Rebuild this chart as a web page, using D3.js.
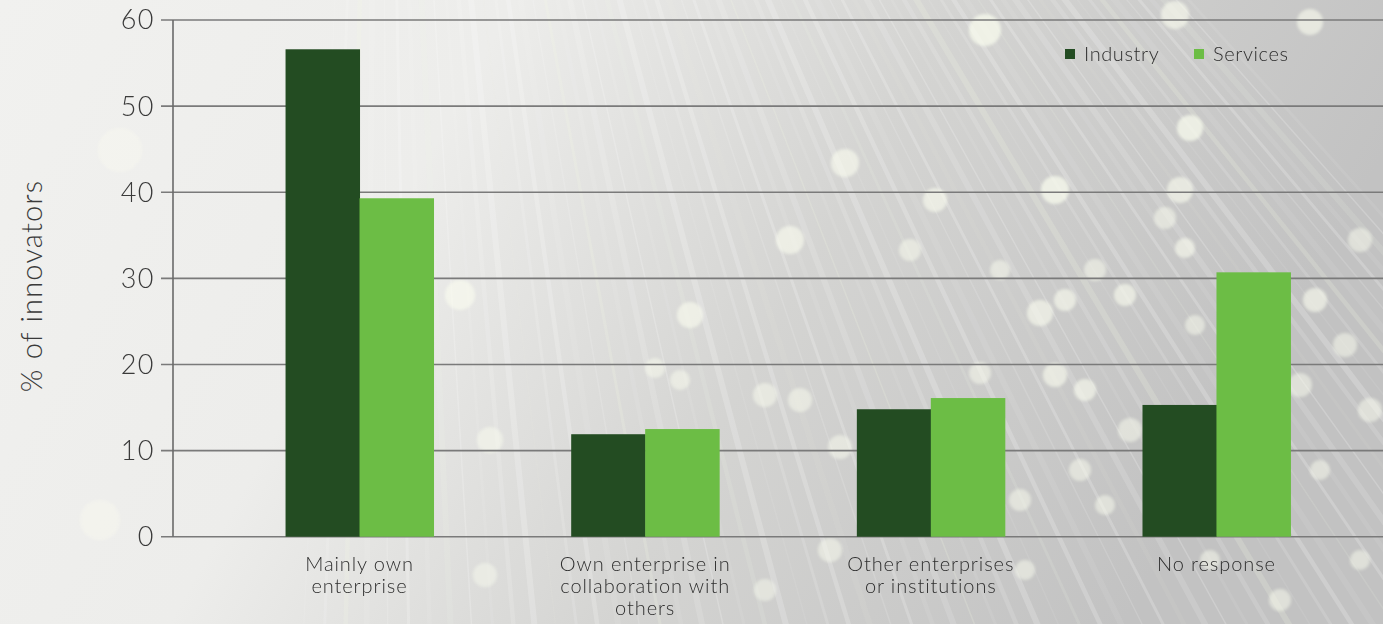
<!DOCTYPE html>
<html>
<head>
<meta charset="utf-8">
<script src="https://cdn.jsdelivr.net/npm/d3@7"></script>
<style>
  html, body { margin: 0; padding: 0; background: #e6e6e4; }
  svg { display: block; }
  text { font-family: Lato, "Open Sans", sans-serif; }
</style>
</head>
<body>
<svg id="chart" width="1383" height="624"></svg>
<script>
// Sources of innovation, share of innovators by sector
const categories = [
  ["Mainly own", "enterprise"],
  ["Own enterprise in", "collaboration with", "others"],
  ["Other enterprises", "or institutions"],
  ["No response"]
];
const seriesNames = ["Industry", "Services"];
const industry = [56.6, 11.9, 14.8, 15.3];
const services = [39.3, 12.5, 16.1, 30.7];
const yTicks = [0, 10, 20, 30, 40, 50, 60];
const colors = ["#234c22", "#6cbd45"];

// Soft highlights in the backdrop: [x, y, r, opacity]
const glows = [
  [985, 30, 16, 0.7], [1175, 15, 14, 0.6], [1310, 22, 13, 0.6], [1190, 128, 13, 0.7],
  [845, 163, 14, 0.6], [935, 200, 12, 0.6], [1055, 190, 14, 0.7], [1180, 190, 13, 0.6],
  [1165, 218, 11, 0.5], [1185, 248, 10, 0.6], [790, 240, 14, 0.6], [460, 295, 15, 0.6],
  [690, 315, 13, 0.6], [1040, 313, 13, 0.6], [1065, 300, 11, 0.6], [1125, 295, 11, 0.6],
  [1195, 325, 10, 0.5], [1315, 300, 12, 0.6], [1345, 345, 12, 0.5], [1360, 240, 12, 0.5],
  [1095, 270, 11, 0.5], [1300, 385, 12, 0.5], [1055, 375, 12, 0.6], [1085, 390, 11, 0.6],
  [765, 395, 12, 0.5], [800, 400, 12, 0.5], [680, 380, 10, 0.5], [655, 368, 10, 0.5],
  [840, 447, 12, 0.5], [980, 373, 11, 0.5], [1130, 430, 12, 0.5], [1320, 470, 10, 0.5],
  [1370, 410, 12, 0.5], [1080, 470, 11, 0.5], [940, 470, 10, 0.5], [1020, 500, 11, 0.5],
  [1105, 505, 10, 0.5], [830, 550, 12, 0.5], [1025, 570, 10, 0.5], [490, 440, 13, 0.5],
  [485, 575, 12, 0.45], [765, 590, 11, 0.45], [1280, 600, 11, 0.5], [1360, 560, 10, 0.5],
  [1270, 520, 10, 0.5], [1210, 560, 10, 0.5], [120, 150, 22, 0.35], [100, 520, 20, 0.35],
  [960, 415, 10, 0.5], [1240, 405, 10, 0.5], [1000, 270, 10, 0.5], [910, 250, 11, 0.5]
];

const W = 1383, H = 624;
const svg = d3.select("#chart");
const defs = svg.append("defs");

// Backdrop: pale on the left, cooler grey on the right
const bg = defs.append("linearGradient").attr("id", "bg").attr("x1", 0).attr("y1", 0).attr("x2", 1).attr("y2", 0.25);
bg.append("stop").attr("offset", "0%").attr("stop-color", "#f1f1ef");
bg.append("stop").attr("offset", "35%").attr("stop-color", "#ededeb");
bg.append("stop").attr("offset", "65%").attr("stop-color", "#d4d4d2");
bg.append("stop").attr("offset", "100%").attr("stop-color", "#c2c2c2");
svg.append("rect").attr("width", W).attr("height", H).attr("fill", "url(#bg)");

// Light fibre streaks fanning out from above the upper left
const streaks = d3.range(0, 70);
svg.append("g").selectAll("line").data(streaks).join("line")
  .attr("x1", 380).attr("y1", -900)
  .attr("x2", d => 300 + d * 22)
  .attr("y2", 700)
  .attr("stroke", d => d % 5 === 2 ? "#f4f8e8" : "#ffffff")
  .attr("stroke-opacity", d => 0.08 + (d % 3) * 0.06)
  .attr("stroke-width", d => 1.5 + (d % 4) * 1.5);

const blur = defs.append("filter").attr("id", "soft").attr("x", "-50%").attr("y", "-50%").attr("width", "200%").attr("height", "200%");
blur.append("feGaussianBlur").attr("stdDeviation", 1.6);
svg.append("g").attr("filter", "url(#soft)").selectAll("circle").data(glows).join("circle")
  .attr("cx", d => d[0]).attr("cy", d => d[1]).attr("r", d => d[2])
  .attr("fill", "#fbfdf0").attr("opacity", d => d[3]);

// Scales
const axisX = 173;
const y = d3.scaleLinear().domain([0, 60]).range([536.7, 20]);
const x = d3.scaleBand().domain(d3.range(categories.length))
  .range([axisX, 1403]).paddingInner(0.482).paddingOuter(0.394);
const xs = d3.scaleBand().domain(seriesNames).range([0, x.bandwidth()]);

// Gridlines and tick labels
const grid = svg.append("g");
grid.selectAll("line").data(yTicks).join("line")
  .attr("x1", 161).attr("x2", W)
  .attr("y1", d => y(d)).attr("y2", d => y(d))
  .attr("stroke", "#7a7a7a").attr("stroke-width", 1.6);
grid.selectAll("text").data(yTicks).join("text")
  .attr("x", 155).attr("y", d => y(d))
  .attr("dy", "0.35em").attr("text-anchor", "end")
  .attr("font-size", 27).attr("font-weight", 300).attr("fill", "#3a3a3a")
  .attr("letter-spacing", 1.5)
  .text(d => d);

// Bars
const rows = categories.map((c, i) => ({ i, vals: [industry[i], services[i]] }));
const groups = svg.append("g").selectAll("g").data(rows).join("g")
  .attr("transform", d => `translate(${x(d.i)},0)`);
groups.selectAll("rect").data(d => d.vals.map((v, k) => ({ v, k })))
  .join("rect")
  .attr("x", d => xs(seriesNames[d.k]))
  .attr("width", xs.bandwidth() + 0.5)
  .attr("y", d => y(d.v))
  .attr("height", d => y(0) - y(d.v))
  .attr("fill", d => colors[d.k]);

// Value axis line
svg.append("line").attr("x1", axisX).attr("x2", axisX)
  .attr("y1", y(60)).attr("y2", y(0))
  .attr("stroke", "#6a6a6a").attr("stroke-width", 1.6);

// Category labels
const labels = svg.append("g").selectAll("text").data(categories).join("text")
  .attr("x", (d, i) => x(i) + x.bandwidth() / 2)
  .attr("y", 571)
  .attr("text-anchor", "middle")
  .attr("font-size", 20).attr("font-weight", 300).attr("fill", "#2e2e2e")
  .attr("letter-spacing", 0.9);
labels.selectAll("tspan").data(d => d).join("tspan")
  .attr("x", function () { return d3.select(this.parentNode).attr("x"); })
  .attr("dy", (d, j) => j === 0 ? 0 : 22)
  .text(d => d);

// Axis title
svg.append("text")
  .attr("transform", "translate(42,286) rotate(-90)")
  .attr("text-anchor", "middle")
  .attr("font-size", 29).attr("font-weight", 300).attr("fill", "#3a3a3a")
  .attr("letter-spacing", 1.2)
  .text("% of innovators");

// Legend
const legendItems = [{ name: seriesNames[0], x: 1065 }, { name: seriesNames[1], x: 1194 }];
const legend = svg.append("g").selectAll("g").data(legendItems).join("g")
  .attr("transform", d => `translate(${d.x},54)`);
legend.append("rect").attr("x", 0).attr("y", -5).attr("width", 10).attr("height", 10)
  .attr("fill", (d, i) => colors[i]);
legend.append("text").attr("x", 19).attr("y", 0).attr("dy", "0.35em")
  .attr("font-size", 20).attr("font-weight", 300).attr("fill", "#2e2e2e")
  .attr("letter-spacing", 0.6)
  .text(d => d.name);
</script>
</body>
</html>
